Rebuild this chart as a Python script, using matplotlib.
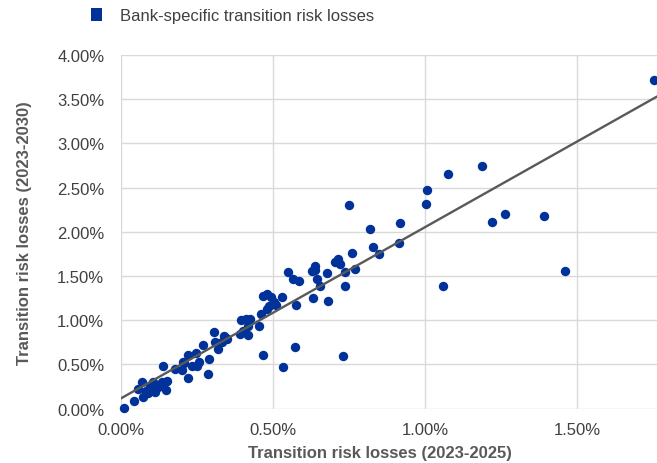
import matplotlib
matplotlib.use("Agg")
import matplotlib.pyplot as plt
from matplotlib.patches import Patch
from matplotlib.ticker import FuncFormatter, FixedLocator
import numpy as np

plt.rcParams['font.family'] = ['Liberation Sans', 'DejaVu Sans']

# Transition risk losses 2023-2025 (%) vs 2023-2030 (%)
losses_2025 = [0.010, 0.043, 0.072, 0.069, 0.082, 0.095, 0.105, 0.112, 0.122, 0.135,
               0.138, 0.148, 0.151, 0.178, 0.201, 0.207, 0.220, 0.220, 0.234, 0.247,
               0.250, 0.257, 0.204, 0.270, 0.286, 0.289, 0.306, 0.309, 0.319, 0.332,
               0.339, 0.349, 0.391, 0.401, 0.418, 0.418, 0.454, 0.395, 0.411, 0.424,
               0.461, 0.480, 0.487, 0.510, 0.467, 0.480, 0.493, 0.503, 0.530, 0.549,
               0.566, 0.586, 0.576, 0.628, 0.638, 0.638, 0.645, 0.655, 0.632, 0.681,
               0.678, 0.704, 0.714, 0.720, 0.737, 0.737, 0.760, 0.770, 0.467, 0.533,
               0.572, 0.730, 0.819, 0.829, 0.849, 0.914, 0.918, 0.750, 1.003, 1.007,
               1.076, 1.188, 1.220, 1.263, 1.391, 1.461, 1.059, 1.753,
               0.056, 0.090, 0.128, 0.345]
losses_2030 = [0.010, 0.085, 0.130, 0.300, 0.198, 0.255, 0.300, 0.187, 0.243, 0.300,
               0.481, 0.210, 0.311, 0.447, 0.436, 0.515, 0.345, 0.606, 0.481, 0.629,
               0.481, 0.527, 0.527, 0.719, 0.391, 0.561, 0.866, 0.753, 0.674, 0.753,
               0.821, 0.787, 0.844, 0.878, 0.832, 0.934, 0.934, 1.002, 1.014, 1.014,
               1.070, 1.127, 1.161, 1.172, 1.274, 1.297, 1.263, 1.206, 1.263, 1.546,
               1.467, 1.444, 1.172, 1.557, 1.614, 1.568, 1.467, 1.387, 1.251, 1.217,
               1.534, 1.659, 1.693, 1.636, 1.546, 1.387, 1.761, 1.580, 0.606, 0.470,
               0.697, 0.595, 2.033, 1.829, 1.750, 1.874, 2.101, 2.305, 2.316, 2.474,
               2.655, 2.746, 2.112, 2.203, 2.180, 1.557, 1.387, 3.720,
               0.220, 0.170, 0.250, 0.800]

# Linear trendline
trend_intercept = 0.115
trend_slope = 1.937

x_ticks = [0.0, 0.5, 1.0, 1.5]
y_ticks = [0.0, 0.5, 1.0, 1.5, 2.0, 2.5, 3.0, 3.5, 4.0]
x_max = 1.763
y_max = 4.0

series_label = "Bank-specific transition risk losses"
x_label = "Transition risk losses (2023-2025)"
y_label = "Transition risk losses (2023-2030)"

blue = "#003299"
grey_line = "#595959"
grid_col = "#d9d9d9"
text_col = "#404040"

W, H = 657, 464
fig = plt.figure(figsize=(W / 100, H / 100), dpi=100)
ax = fig.add_axes([121 / W, 1 - 409.5 / H, 1 - 121 / W, (409.5 - 56) / H])

ax.scatter(losses_2025, losses_2030, s=46, color=blue, linewidths=0, zorder=2, clip_on=False)
xs = np.array([0.0, x_max])
ax.plot(xs, trend_intercept + trend_slope * xs, color=grey_line, lw=1.7, zorder=3)

ax.set_xlim(0, x_max)
ax.set_ylim(0, y_max)
ax.xaxis.set_major_locator(FixedLocator(x_ticks))
ax.yaxis.set_major_locator(FixedLocator(y_ticks))
fmt = FuncFormatter(lambda v, p: f"{v:.2f}%")
ax.xaxis.set_major_formatter(fmt)
ax.yaxis.set_major_formatter(fmt)
ax.grid(True, color=grid_col, lw=1.0, zorder=0)
ax.set_axisbelow(True)
for s in ax.spines.values():
    s.set_visible(False)
ax.tick_params(axis='both', length=0, labelsize=12, labelcolor=text_col)
ax.tick_params(axis='x', pad=10)
ax.tick_params(axis='y', pad=12)

ax.set_xlabel(x_label, fontsize=12, fontweight='bold', color=grey_line, va='center')
ax.xaxis.set_label_coords((380 - 121) / (W - 121), -(454 - 409.5) / (409.5 - 56))
ax.set_ylabel(y_label, fontsize=12, fontweight='bold', color=grey_line, va='center')
ax.yaxis.set_label_coords(-(121 - 25) / (W - 121), (409.5 - 233) / (409.5 - 56))

handle = Patch(facecolor=blue, edgecolor='none')
fig.legend([handle], [series_label], loc='center left', bbox_to_anchor=(91 / W, 1 - 16.5 / H),
           frameon=False, fontsize=12, handlelength=0.66, handleheight=0.84,
           handletextpad=1.05, labelcolor=text_col, borderaxespad=0, borderpad=0)

fig.savefig("out.png", dpi=100)
